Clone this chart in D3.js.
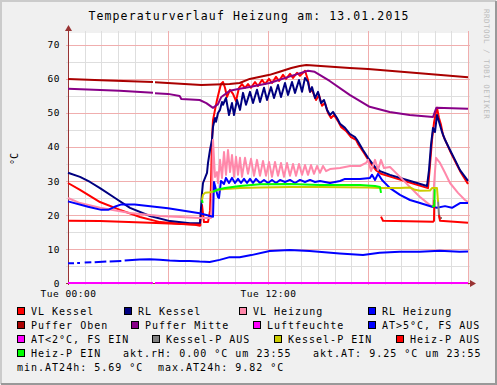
<!DOCTYPE html>
<html>
<head>
  <meta charset="utf-8">
  <script src="https://d3js.org/d3.v7.min.js"></script>
  <style>
    body { margin: 0; background: #f0f0f0; }
    svg text { font-family: 'DejaVu Sans Mono', monospace; fill: #000; }
    .title { font-size: 11.5px; letter-spacing: 1.1px; }
    .legend text { font-size: 10px; letter-spacing: 1px; }
    .axis text { font-size: 9.5px; letter-spacing: 0.5px; }
    svg text.mark { font-size: 7.5px; letter-spacing: 0.5px; fill: #bdbdbd; }
  </style>
</head>
<body>
<script>
  /*
    Values: [hour of 13.01.2015, °C]
  */
  var vlKessel = [[0,29.4],[0.72,27.4],[1.92,23.8],[3.12,21.5],[4.32,19.4],[5.52,17.9],[6.72,17.4],[7.62,17.1],[7.92,16.8],
    [8.04,22.9],[8.16,17.9],[8.4,17.9],[8.52,21.2],[8.58,29.1],[8.64,42.1],[8.7,47.9],[8.82,50.9],[8.94,53.8],[9.06,56.2],
    [9.18,58.5],[9.3,59.1],[9.42,57.4],[9.54,54.7],[9.72,56.8],[9.9,55.6],[10.08,53.5],[10.26,57.4],[10.44,58.5],[10.62,57.4],
    [10.8,58.5],[10.98,57.4],[11.22,59.1],[11.4,57.9],[11.64,59.7],[11.82,58.5],[12.06,60.0],[12.24,58.8],[12.48,60.6],
    [12.66,59.4],[12.9,61.2],[13.08,60.0],[13.32,61.5],[13.5,60.3],[13.74,61.8],[13.92,60.9],[14.22,62.4],[14.4,59.7],
    [14.52,56.2],[14.64,56.8],[14.88,53.8],[15.06,55.3],[15.24,52.1],[15.42,52.9],[15.6,50.0],[15.78,48.5],[15.96,49.4],
    [16.2,47.6],[16.38,45.9],[16.68,44.7],[16.98,42.9],[17.28,42.1],[17.4,40.9],[17.76,38.2],[18.06,35.9],[18.48,33.2],
    [18.78,32.1],[19.38,31.2],[20.4,29.7],[21.6,27.9],[21.72,34.7],[21.84,42.1],[21.96,47.1],[22.08,50.3],[22.14,51.5],
    [22.26,48.5],[22.38,46.5],[22.5,43.5],[22.68,41.5],[22.98,38.2],[23.28,35.3],[23.58,32.4],[24,29.1]];

  var rlKessel = [[0,32.4],[0.72,31.2],[1.32,29.7],[1.92,27.9],[2.82,25.0],[3.72,22.1],[4.92,19.7],[6.12,18.2],[7.32,17.6],
    [7.92,17.6],[8.04,26.5],[8.1,29.4],[8.34,32.4],[8.4,35.3],[8.52,39.1],[8.64,42.1],[8.7,45.9],[8.82,48.5],[8.88,47.4],
    [9.0,50.0],[9.12,50.9],[9.24,53.2],[9.3,52.4],[9.48,54.4],[9.66,49.4],[9.84,52.9],[9.96,49.4],[10.14,53.8],[10.32,50.9],
    [10.5,55.9],[10.68,52.4],[10.92,56.2],[11.1,52.9],[11.34,56.8],[11.52,53.2],[11.76,57.4],[11.94,53.8],[12.18,57.6],
    [12.36,54.4],[12.6,58.2],[12.78,54.7],[13.02,58.8],[13.2,55.3],[13.44,59.1],[13.62,55.9],[13.86,59.7],[14.04,56.2],
    [14.22,60.3],[14.4,59.1],[14.52,56.2],[14.64,57.6],[14.82,54.4],[15.0,56.2],[15.18,52.9],[15.36,53.8],[15.54,50.9],
    [15.72,49.4],[15.9,50.3],[16.14,48.5],[16.32,46.8],[16.62,45.6],[16.92,43.8],[17.22,42.9],[17.34,42.1],[17.7,39.1],
    [18.0,36.8],[18.42,34.1],[18.72,32.9],[19.32,31.8],[20.34,30.3],[21.54,28.5],[21.66,33.2],[21.78,40.6],[21.9,45.6],
    [22.02,44.4],[22.14,49.4],[22.26,47.4],[22.44,44.4],[22.62,42.1],[22.92,39.1],[23.22,36.2],[23.52,33.2],[24,30.0]];

  var vlHeizung = [[0,25.0],[0.72,23.5],[1.92,22.1],[3.72,20.6],[5.52,19.7],[7.92,19.1],[8.58,19.1],[8.64,24.4],[8.7,42.1],
    [8.82,31.2],[8.94,32.6],[9.0,29.4],[9.12,36.2],[9.24,30.9],[9.36,38.5],[9.48,31.8],[9.6,39.1],[9.72,32.6],[9.84,37.6],
    [9.96,31.2],[10.08,37.1],[10.2,31.8],[10.32,36.8],[10.44,31.2],[10.62,36.8],[10.8,32.1],[10.98,36.5],[11.16,31.5],
    [11.34,36.2],[11.52,31.5],[11.7,35.9],[11.88,31.5],[12.06,35.6],[12.24,31.2],[12.42,35.6],[12.6,31.5],[12.78,35.3],
    [12.96,31.2],[13.14,35.3],[13.32,31.5],[13.5,35.0],[13.68,31.5],[13.86,35.0],[14.04,31.8],[14.22,34.7],[14.4,31.8],
    [14.58,34.7],[14.76,32.1],[14.94,34.4],[15.12,32.4],[15.3,34.4],[15.48,32.9],[15.72,33.5],[16.32,33.8],[16.92,34.4],
    [17.52,34.4],[17.88,35.3],[18.0,36.2],[18.18,32.9],[18.42,36.2],[18.6,33.2],[18.78,36.2],[18.96,33.8],[19.32,34.1],
    [19.92,31.2],[20.52,28.2],[21.12,25.3],[21.72,22.9],[21.9,22.4],[21.96,28.8],[22.08,36.8],[22.32,35.3],[22.62,32.4],
    [22.92,29.4],[23.4,26.5],[23.82,24.4],[24,23.8]];

  var rlHeizung = [[0,24.0],[1.2,22.4],[2.0,21.5],[2.4,21.5],[2.8,22.4],[3.2,23.1],[4.0,23.1],[6.0,22.0],[7.9,20.5],[8.7,19.5],
    [8.76,29.7],[8.88,27.4],[9.0,25.3],[9.06,25.0],[9.18,30.0],[9.36,29.1],[9.48,30.9],[9.66,29.4],[9.84,30.9],[10.02,29.4],
    [10.2,30.6],[10.38,29.4],[10.56,30.6],[10.74,29.4],[10.92,30.6],[11.1,29.4],[11.28,30.6],[11.52,29.4],[11.76,30.3],
    [12.0,29.4],[12.24,30.3],[12.48,29.4],[12.72,30.3],[13.02,29.7],[13.32,30.3],[13.62,29.4],[13.92,30.3],[14.22,29.7],
    [14.52,30.3],[14.82,29.7],[15.12,30.0],[15.72,29.4],[16.32,30.0],[16.62,30.6],[17.52,30.6],[18.12,30.9],[18.24,31.8],
    [18.42,30.3],[18.6,32.1],[18.84,30.3],[19.32,27.9],[19.92,25.9],[20.52,24.4],[21.12,23.5],[21.84,22.4],[22.14,22.1],
    [22.62,22.6],[23.04,22.1],[23.52,23.5],[24,23.5]];

  var pufferOben = [[0,60.0],[2,59.6],[5.1,59.1],[5.16,null],[5.22,59.0],[8,58.2],[9.7,58.5],[10.3,58.8],[10.9,60.0],
    [12.1,61.2],[12.7,62.1],[13.4,63.2],[13.9,63.8],[14.3,64.1],[16.9,63.2],[18,62.9],[21.1,61.7],[24,60.5]];

  var pufferMitte = [[0,57.1],[3.1,56.5],[5.1,55.9],[5.16,null],[5.22,55.8],[6.0,55.6],[6.7,55.0],[6.8,54.1],[7.9,53.8],
    [8.3,52.9],[8.7,51.5],[9.0,52.6],[9.2,54.7],[9.7,56.5],[10.3,57.1],[10.9,57.6],[12.1,58.8],[13.6,61.2],[14.4,62.4],
    [14.8,62.1],[15.7,59.4],[16.9,55.3],[18.1,51.8],[19.3,50.3],[20.5,49.4],[21.9,48.8],[22.1,51.5],[24,51.2]];

  var luftfeuchte = [[0,0],[5.1,0],[5.16,null],[5.22,0],[12,0],[24,0]];

  var atHigh = [[0,5.8],[0.36,5.8],[0.4,null],[0.55,5.9],[0.72,5.9],[0.76,null],[1.0,6.0],[1.4,6.1],[1.45,null],[1.6,6.1],
    [2.3,6.3],[2.35,null],[2.5,6.3],[3.2,6.5],[3.25,null],[3.4,6.6],[4.3,6.9],[4.9,7.0],[5.5,6.8],[6.1,6.6],[6.7,6.5],
    [7.3,6.5],[7.9,6.3],[8.5,6.2],[9.1,6.8],[9.7,7.6],[10.3,7.6],[11.0,8.2],[12.1,9.4],[13.3,9.7],[14.5,9.4],[16.3,8.7],
    [17.7,8.2],[18.7,8.9],[19.9,9.2],[21.1,9.2],[22.3,9.5],[23.5,9.2],[24,9.25]];

  var atLow = [];

  var kesselPAus = [[22.2,24.4],[22.26,20.0],[22.3,19.1],[22.44,19.1]];

  var kesselPEin = [[8.04,24.4],[8.1,25.9],[8.22,26.5],[8.52,26.7],[8.76,27.0],[9.0,27.4],[9.42,27.6],[10.32,27.9],
    [11.52,28.1],[13.32,28.2],[15.12,28.2],[18.0,28.1],[18.72,27.9],[19.92,27.9],[20.52,28.1],[20.82,27.4],[21.12,27.1],
    [21.72,27.2],[21.84,27.9],[22.14,27.9],[22.2,23.9]];

  var heizPAus = [[0,18.3],[1.92,18.2],[4.92,17.7],[7.92,17.1],[8.0,17.1],[8.02,null],[18.78,19.5],[18.9,18.3],[21.9,18.0],
    [21.96,18.3],[21.98,24.4],[22.0,null],[22.26,20.0],[22.32,18.3],[24,17.7]];

  var heizPEin = [[8.04,24.4],[8.08,23.5],[8.1,null],[8.7,26.8],[8.94,27.4],[9.42,27.9],[10.32,28.5],[11.52,29.0],
    [13.32,29.1],[15.12,28.8],[17.52,28.8],[18.42,28.5],[18.72,28.2],[18.78,26.5],[18.8,null],[21.84,22.6],[21.98,22.6],
    [22.0,27.6]];

  var series = [
    {name: "VL Kessel",      color: "#ff0000", data: vlKessel},
    {name: "RL Kessel",      color: "#000080", data: rlKessel},
    {name: "VL Heizung",     color: "#ff88aa", data: vlHeizung},
    {name: "RL Heizung",     color: "#0000ff", data: rlHeizung},
    {name: "Puffer Oben",    color: "#aa0000", data: pufferOben},
    {name: "Puffer Mitte",   color: "#880088", data: pufferMitte},
    {name: "Luftfeuchte",    color: "#ff00ff", data: luftfeuchte},
    {name: "AT>5°C, FS AUS", color: "#0000ff", data: atHigh},
    {name: "AT<2°C, FS EIN", color: "#ff00ff", data: atLow},
    {name: "Kessel-P AUS",   color: "#808080", data: kesselPAus},
    {name: "Kessel-P EIN",   color: "#cccc00", data: kesselPEin},
    {name: "Heiz-P AUS",     color: "#ff0000", data: heizPAus},
    {name: "Heiz-P EIN",     color: "#00ff00", data: heizPEin}
  ];

  var yTicks = [0, 10, 20, 30, 40, 50, 60, 70];
  var xTickHours = [0, 12];
  var xTickLabels = ["Tue 00:00", "Tue 12:00"];
  var stats = {aktRH: 0.00, aktAT: 9.25, minAT: 5.69, maxAT: 9.82};

  /*
    Layout
  */
  var width = 497, height = 385;
  var plotL = 68, plotR = 468, plotT = 33, plotB = 283;
  var axisColor = "#993333";

  var x = d3.scaleLinear().domain([0, 24]).range([plotL, plotR]);
  var y = d3.scaleLinear().domain([0, 73.5]).range([plotB, plotT]);

  var svg = d3.select("body").append("svg")
      .attr("width", width)
      .attr("height", height);

  svg.append("rect").attr("width", width).attr("height", height).attr("fill", "#f0f0f0");

  // shaded frame
  svg.append("path").attr("d", "M1,384 V1 H496").attr("stroke", "#cbcbcb").attr("stroke-width", 2).attr("fill", "none");
  svg.append("path").attr("d", "M1,384 H496 V1").attr("stroke", "#999999").attr("stroke-width", 2).attr("fill", "none");

  svg.append("rect")
      .attr("x", plotL).attr("y", plotT)
      .attr("width", plotR - plotL).attr("height", plotB - plotT)
      .attr("fill", "#ffffff");

  svg.append("text").attr("class", "title")
      .attr("x", 249).attr("y", 20)
      .attr("text-anchor", "middle")
      .attr("fill", "#000")
      .text("Temperaturverlauf Heizung am: 13.01.2015");

  svg.append("text").attr("class", "mark")
      .attr("transform", "translate(484,9) rotate(90)")
      .text("RRDTOOL / TOBI OETIKER");

  // grid
  var grid = svg.append("g");
  function px(v) { return Math.round(v) + 0.5; }
  d3.range(1, 24).filter(function (h) { return h % 6 !== 0; }).forEach(function (h) {
    grid.append("line").attr("x1", px(x(h))).attr("x2", px(x(h)))
        .attr("y1", plotT - 2).attr("y2", plotB + 2).attr("stroke", "#dedede");
  });
  d3.range(5, 75, 10).forEach(function (v) {
    grid.append("line").attr("y1", px(y(v))).attr("y2", px(y(v)))
        .attr("x1", plotL - 2).attr("x2", plotR + 2).attr("stroke", "#dedede");
  });
  [6, 12, 18, 24].forEach(function (h) {
    grid.append("line").attr("x1", px(x(h))).attr("x2", px(x(h)))
        .attr("y1", plotT - 2).attr("y2", plotB + 2).attr("stroke", "#f0aeae");
  });
  yTicks.forEach(function (v) {
    grid.append("line").attr("y1", px(y(v))).attr("y2", px(y(v)))
        .attr("x1", plotL - 2).attr("x2", plotR + 2).attr("stroke", "#f0aeae");
  });

  // axes
  var yAxis = svg.append("g").attr("class", "axis")
      .attr("transform", "translate(" + plotL + ",0)")
      .call(d3.axisLeft(y).tickValues(yTicks).tickSize(0).tickPadding(8));
  yAxis.select(".domain").remove();
  yAxis.selectAll("text").attr("fill", "#000");

  var xAxis = svg.append("g").attr("class", "axis")
      .attr("transform", "translate(0," + plotB + ")")
      .call(d3.axisBottom(x).tickValues(xTickHours).tickSize(0)
        .tickFormat(function (d, i) { return xTickLabels[i]; }));
  xAxis.select(".domain").remove();
  xAxis.selectAll("text").attr("y", 14).attr("dy", 0).attr("fill", "#000");

  svg.append("text").attr("class", "axis")
      .attr("transform", "translate(18,159) rotate(-90)")
      .attr("text-anchor", "middle")
      .attr("fill", "#000")
      .style("font-size", "10px")
      .text("°C");

  svg.append("line").attr("x1", plotL + 0.5).attr("x2", plotL + 0.5)
      .attr("y1", plotB + 2).attr("y2", plotT - 4).attr("stroke", axisColor);
  svg.append("line").attr("x1", plotL - 2).attr("x2", plotR + 3)
      .attr("y1", plotB + 0.5).attr("y2", plotB + 0.5).attr("stroke", axisColor);

  // series
  var line = d3.line()
      .defined(function (d) { return d[1] !== null; })
      .x(function (d) { return x(d[0]); })
      .y(function (d) { return y(d[1]); });

  svg.append("g").selectAll("path")
      .data(series)
    .enter().append("path")
      .attr("d", function (s) { return line(s.data); })
      .attr("fill", "none")
      .attr("stroke", function (s) { return s.color; })
      .attr("stroke-width", 2)
      .attr("stroke-linejoin", "round");

  // arrows
  svg.append("path").attr("d", "M" + (plotL - 3) + "," + (plotT - 2) + " L" + (plotL + 0.5) + "," + (plotT - 8) +
      " L" + (plotL + 4) + "," + (plotT - 2) + " Z").attr("fill", axisColor);
  svg.append("path").attr("d", "M" + (plotR + 2) + "," + (plotB - 3) + " L" + (plotR + 8) + "," + (plotB + 0.5) +
      " L" + (plotR + 2) + "," + (plotB + 4) + " Z").attr("fill", axisColor);

  /*
    Legend
  */
  var legendX = [31, 138, 253, 382, 31, 145, 267, 382, 31, 166, 288, 410, 31];
  var legend = svg.append("g").attr("class", "legend");
  series.forEach(function (s, i) {
    var base = 315 + 14 * Math.floor(i / 4);
    legend.append("rect")
        .attr("x", legendX[i] - 13.5).attr("y", base - 7.5)
        .attr("width", 7).attr("height", 7)
        .attr("fill", s.color).attr("stroke", "#000").attr("stroke-width", 1);
    legend.append("text").attr("x", legendX[i]).attr("y", base)
        .attr("fill", "#000").text(s.name);
  });

  var f = d3.format(".2f");
  var notes = [
    ["akt.rH: " + f(stats.aktRH) + " °C um 23:55", 123, 357],
    ["akt.AT: " + f(stats.aktAT) + " °C um 23:55", 313, 357],
    ["min.AT24h: " + f(stats.minAT) + " °C", 17, 371],
    ["max.AT24h: " + f(stats.maxAT) + " °C", 158, 371]
  ];
  notes.forEach(function (n) {
    legend.append("text").attr("x", n[1]).attr("y", n[2])
        .attr("fill", "#000").text(n[0]);
  });
</script>
</body>
</html>
